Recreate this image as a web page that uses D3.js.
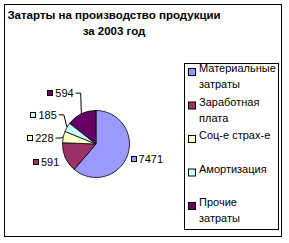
<!DOCTYPE html>
<meta charset="utf-8">
<script src="https://d3js.org/d3.v7.min.js"></script>
<style>
  body { margin: 0; background: #fff; }
  text { font-family: "Liberation Sans", Arial, sans-serif; }
</style>
<div id="chart"></div>
<script>

  // chart data
  var categories = ["Материальные затраты", "Заработная плата", "Соц-е страх-е", "Амортизация", "Прочие затраты"];
  var labels = ["7471", "591", "228", "185", "594"];
  // slice sizes as they are drawn in the picture (first slice is smaller than its label)
  var shares = [2530, 591, 228, 185, 594];
  var colors = ["#9999ff", "#993366", "#ffffcc", "#ccffff", "#660066"];
  var titleLines = ["Затарты на производство продукции", "за 2003 год"];

  // label layout: angle nudge (deg) from slice middle, distance from centre, leader line
  var labelNudge = [-4, 4, -6, -1, -9];
  var labelDist = [53, 53, 56, 60, 62];
  var labelLeader = [false, false, true, true, true];

  var width = 289, height = 243;
  var cx = 96, cy = 144, r = 33.5;

  var svg = d3.select("#chart")
    .append("svg")
      .attr("width", width)
      .attr("height", height);

  // outer frame
  svg.append("rect")
    .attr("x", 4.5).attr("y", 4.5)
    .attr("width", 277).attr("height", 232)
    .attr("fill", "#fff")
    .attr("stroke", "#000");

  // title
  svg.selectAll(".title")
    .data(titleLines)
    .enter()
    .append("text")
      .attr("class", "title")
      .attr("x", 114)
      .attr("y", function(d, i) { return 19 + i * 16; })
      .attr("text-anchor", "middle")
      .attr("font-size", "11.5px")
      .attr("font-weight", "bold")
      .text(function(d) { return d; });

  var pie = d3.pie().sort(null).value(function(d) { return d; });
  var arcs = pie(shares);
  var arc = d3.arc().innerRadius(0).outerRadius(r);

  var g = svg.append("g").attr("transform", "translate(" + cx + "," + cy + ")");

  g.selectAll("path")
    .data(arcs)
    .enter()
    .append("path")
      .attr("d", arc)
      .attr("fill", function(d, i) { return colors[i]; })
      .attr("stroke", "#000")
      .attr("stroke-width", 0.8);

  // data labels
  function polar(a, d) { return [d * Math.sin(a), -d * Math.cos(a)]; }

  arcs.forEach(function(a, i) {
    var mid = (a.startAngle + a.endAngle) / 2;
    var p = polar(mid + labelNudge[i] * Math.PI / 180, labelDist[i]);
    var lg = g.append("g");
    var t = lg.append("text")
      .attr("font-size", "11px")
      .attr("dy", "0.35em")
      .text(labels[i]);
    var tw = t.node().getComputedTextLength();
    var w = 6 + 2 + tw;
    var x0 = p[0] - w / 2;
    t.attr("x", x0 + 8).attr("y", p[1]);
    lg.append("rect")
      .attr("x", Math.round(x0) + 0.5)
      .attr("y", Math.round(p[1] - 3) + 0.5)
      .attr("width", 5).attr("height", 5)
      .attr("fill", colors[i])
      .attr("stroke", "#000");
    if (labelLeader[i]) {
      var e = polar(mid, r);
      var sx = x0 + w + 2;
      lg.append("path")
        .attr("d", "M" + sx + "," + p[1] + "H" + (sx + 5) + "L" + e[0] + "," + e[1])
        .attr("fill", "none")
        .attr("stroke", "#000");
    }
  });

  // legend
  var legX = 184, legY = 63, legW = 94, legH = 166;
  svg.append("rect")
    .attr("x", legX + 0.5).attr("y", legY + 0.5)
    .attr("width", legW).attr("height", legH)
    .attr("fill", "#fff")
    .attr("stroke", "#000");

  var items = svg.selectAll(".leg")
    .data(categories)
    .enter()
    .append("g")
      .attr("class", "leg")
      .attr("transform", function(d, i) { return "translate(" + legX + "," + (72 + i * 33.5) + ")"; });

  items.append("rect")
    .attr("x", 4.5).attr("y", -3.5)
    .attr("width", 7).attr("height", 7)
    .attr("fill", function(d, i) { return colors[i]; })
    .attr("stroke", "#000");

  items.each(function(d) {
    var t = d3.select(this).append("text")
      .attr("x", 15)
      .attr("font-size", "11px")
      .attr("dy", "0.35em");
    // wrap words to legend width
    var words = d.split(" "), line = [];
    var ts = t.append("tspan").attr("x", 15).attr("dy", 0);
    words.forEach(function(w) {
      line.push(w);
      ts.text(line.join(" "));
      if (ts.node().getComputedTextLength() > legW - 17 && line.length > 1) {
        line.pop();
        ts.text(line.join(" "));
        line = [w];
        ts = t.append("tspan").attr("x", 15).attr("dy", "16px").text(w);
      }
    });
  });

</script>
